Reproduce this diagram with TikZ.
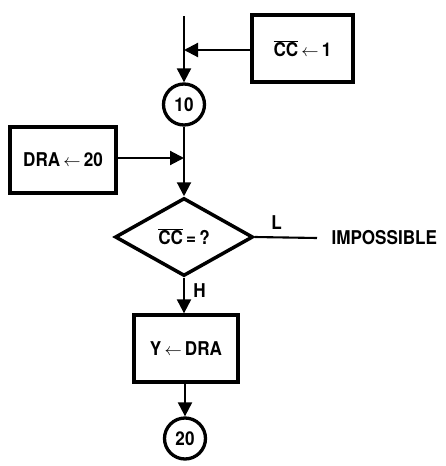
\documentclass[tikz,border=0pt]{standalone}
\usepackage{fontspec}
\setmainfont[FakeStretch=0.9]{TeX Gyre Heros}
\usetikzlibrary{shapes.geometric,arrows.meta}
\tikzset{
  lbl/.style={font=\fontsize{19}{22}\selectfont\bfseries},
  box/.style={draw,line width=3.3pt,lbl,inner sep=0pt},
  conn/.style={circle,draw,line width=3.3pt,lbl,inner sep=0pt,minimum size=41pt},
  dec/.style={diamond,draw,line width=3.5pt,lbl,inner sep=0pt,minimum width=138pt,minimum height=78pt},
  flow/.style={line width=2.1pt},
  arr/.style={flow,-{Triangle[length=14pt,width=14pt]}}
}
\newcommand{\ccbar}{$\overline{\hbox{CC}}$}
\newcommand{\asg}{\,$\leftarrow$\,}
\begin{document}
\begin{tikzpicture}[x=1pt,y=-1pt]
\useasboundingbox (0,0) rectangle (445,466);
\node[box,minimum width=101pt,minimum height=67pt] (cc1) at (302.5,48.5) {\ccbar\asg1};
\node[conn] (c10) at (184,104.5) {10};
\node[box,minimum width=106pt,minimum height=66pt] (dra) at (63,160) {DRA\asg20};
\node[dec] (dia) at (184,237) {\ccbar\,=\,?};
\node[box,minimum width=104pt,minimum height=67pt] (y) at (186,348.5) {Y\asg DRA};
\node[conn] (c20) at (185,438.5) {20};
\node[lbl,anchor=west] (imp) at (328,238) {IMPOSSIBLE};
\coordinate (top) at (184,16);
\coordinate (j1) at (184,50);
\coordinate (j2) at (184,158);
\coordinate (iend) at (317,238);
\draw[arr] (top) -- (c10.north);
\draw[arr] (cc1.west |- j1) -- (j1);
\draw[arr] (c10.south) -- (dia.north);
\draw[arr] (dra.east |- j2) -- (j2);
\draw[arr] (dia.south) -- node[lbl,right=5pt,pos=0.35] (h) {H} (dia.south |- y.north);
\draw[flow] (dia.east) -- node[lbl,above=3pt,pos=0.35] (l) {L} (iend);
\draw[arr] (y.south -| c20.north) -- (c20.north);
\end{tikzpicture}
\end{document}
